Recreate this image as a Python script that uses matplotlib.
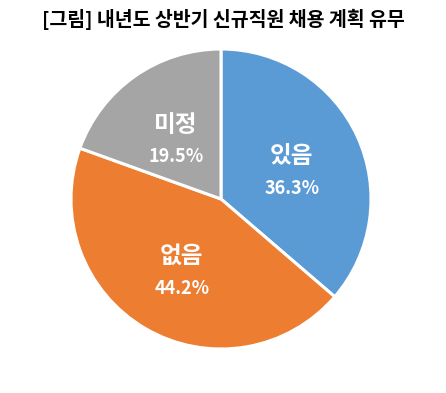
import matplotlib.pyplot as plt

plt.rcParams['font.family'] = ['Noto Sans CJK KR', 'DejaVu Sans']

title = '[그림] 내년도 상반기 신규직원 채용 계획 유무'
labels = ['있음', '없음', '미정']
values = [36.3, 44.2, 19.5]
colors = ['#5B9BD5', '#ED7D31', '#A5A5A5']

fig = plt.figure(figsize=(4.46, 3.93), dpi=100)
fig.text(0.5, 0.95, title, ha='center', va='center', fontsize=14, fontweight='bold')

ax = fig.add_axes([71 / 446, 44 / 393, 300 / 446, 300 / 393])
wedges, texts = ax.pie(values, colors=colors, startangle=90, counterclock=False,
                       labels=labels, labeldistance=0.52,
                       wedgeprops=dict(edgecolor='white', linewidth=2.2))
for t, lab, v in zip(texts, labels, values):
    x, y = t.get_position()
    t.set_visible(False)
    ax.text(x, y + 0.07, lab, ha='center', va='center', color='white',
            fontsize=17, fontweight='bold')
    ax.text(x, y - 0.145, f'{v:.1f}%', ha='center', va='center', color='white',
            fontsize=13, fontweight='bold')
ax.set_xlim(-1, 1)
ax.set_ylim(-1, 1)
ax.set_aspect('equal')
ax.axis('off')

fig.savefig('out.png', dpi=100)
